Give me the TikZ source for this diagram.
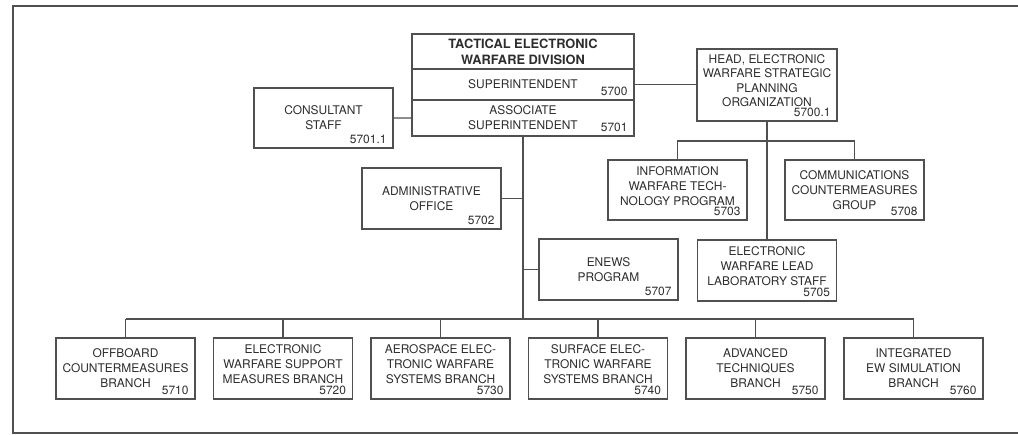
\documentclass[tikz,border=0pt]{standalone}
\usepackage{fontspec}
\setmainfont{TeX Gyre Heros}
\usepackage{tikz}
\usetikzlibrary{positioning}
\usepackage{xcolor}
\definecolor{orgline}{RGB}{80,80,80}
\definecolor{orgtext}{RGB}{45,45,45}

\begin{document}
\begin{tikzpicture}[
    x=0.02cm, y=-0.02cm,
    box/.style={draw=orgline, line width=0.8pt, inner sep=0pt, outer sep=0pt, align=center, text=orgtext, font=\fontsize{6.8}{8.5}\selectfont},
    num/.style={anchor=south east, inner xsep=3.5pt, inner ysep=2pt, text=orgtext, font=\fontsize{6.8}{8}\selectfont},
    unit/.style={box, minimum width=2.78cm, minimum height=1.22cm, label={[num]south east:#1}},
    lift/.style={text depth=5pt},
    link/.style={draw=orgline, line width=0.8pt}
]
\useasboundingbox (0,0) rectangle (1018,435);
\draw[orgline, line width=1.4pt] (1018,6) -- (13,6) -- (13,433) -- (1018,433);

% division head
\node[box, minimum width=4.44cm, minimum height=0.7cm, font=\fontsize{7.3}{9}\selectfont\bfseries] (tewd) at (523,51.5) {TACTICAL ELECTRONIC\\WARFARE DIVISION};
\node[box, minimum width=4.44cm, minimum height=0.62cm, below=0pt of tewd, label={[num]south east:5700}] (supt) {SUPERINTENDENT};
\node[box, minimum width=4.44cm, minimum height=0.72cm, below=0pt of supt, label={[num]south east:5701}] (assoc) {ASSOCIATE\\SUPERINTENDENT};

\node[unit=5701.1, minimum height=1.2cm] (consult) at (323.5,118) {CONSULTANT\\STAFF};
\node[unit=5700.1, lift, minimum width=2.8cm, minimum height=1.44cm, font=\fontsize{6.8}{8.1}\selectfont] (head) at (767,85) {HEAD, ELECTRONIC\\WARFARE STRATEGIC\\PLANNING\\ORGANIZATION};

% staff offices
\node[unit=5702] (admin) at (431.5,198.5) {ADMINISTRATIVE\\OFFICE};
\node[unit=5707] (enews) at (608.5,269.5) {ENEWS\\PROGRAM};
\node[unit=5703, lift, minimum height=1.2cm] (info) at (677.5,190) {INFORMATION\\WARFARE TECH-\\NOLOGY PROGRAM};
\node[unit=5708, minimum height=1.2cm] (comm) at (854.5,190) {COMMUNICATIONS\\COUNTERMEASURES\\GROUP};
\node[unit=5705, lift] (ell) at (767,270.5) {ELECTRONIC\\WARFARE LEAD\\LABORATORY STAFF};

% branches
\node[unit=5710] (b5710) at (125.5,368.5) {OFFBOARD\\COUNTERMEASURES\\BRANCH};
\node[unit=5720, lift] (b5720) at (283,368.5) {ELECTRONIC\\WARFARE SUPPORT\\MEASURES BRANCH};
\node[unit=5730, lift] (b5730) at (440.5,368.5) {AEROSPACE ELEC-\\TRONIC WARFARE\\SYSTEMS BRANCH};
\node[unit=5740, lift] (b5740) at (598,368.5) {SURFACE ELEC-\\TRONIC WARFARE\\SYSTEMS BRANCH};
\node[unit=5750] (b5750) at (755.5,368.5) {ADVANCED\\TECHNIQUES\\BRANCH};
\node[unit=5760] (b5760) at (913.5,368.5) {INTEGRATED\\EW SIMULATION\\BRANCH};

\coordinate (bus) at (assoc.south |- 0,319);
\coordinate (hub) at (767,141);

\draw[link] (consult) -- (assoc);
\draw[link] (supt.east) -- (supt.east -| head.west);
\draw[link] (assoc.south) -- (bus);
\draw[link] (admin.east) -- (admin.east -| bus);
\draw[link] (enews.west) -- (enews.west -| bus);
\draw[link] (head.south) -- (ell.north);
\draw[link] (info.north) |- (hub) -| (comm.north);
\draw[link] (b5710.north |- bus) -- (b5760.north |- bus);
\foreach \b in {b5710,b5720,b5730,b5740,b5750,b5760}
    \draw[link] (\b.north) -- (\b.north |- bus);
\end{tikzpicture}
\end{document}
